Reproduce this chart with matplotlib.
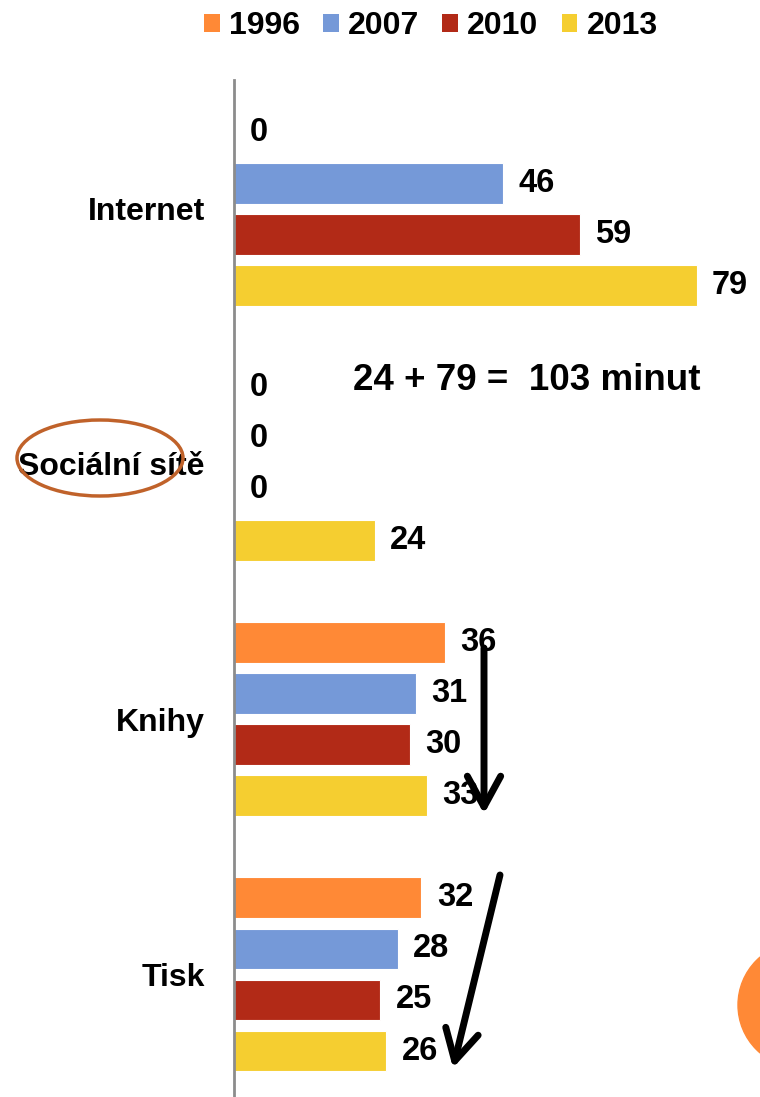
import matplotlib
matplotlib.use("Agg")
import matplotlib.pyplot as plt
from matplotlib.patches import Patch, Ellipse, Circle
import numpy as np

plt.rcParams['font.family'] = ['Liberation Sans', 'DejaVu Sans']

categories = ["Internet", "Sociální sítě", "Knihy", "Tisk"]
years = ["1996", "2007", "2010", "2013"]
colors = ["#FF8936", "#7599D8", "#B22A17", "#F5CE30"]
values = {
    "1996": [0, 0, 36, 32],
    "2007": [46, 0, 31, 28],
    "2010": [59, 0, 30, 25],
    "2013": [79, 24, 33, 26],
}
annotation_text = "24 + 79 =  103 minut"

W, H = 760, 1097
fig = plt.figure(figsize=(W / 100, H / 100), dpi=100)
ax = fig.add_axes([234 / W, 0, 1 - 234 / W, (H - 80) / H])

group_step = 5
for j, y in enumerate(years):
    pos = np.arange(len(categories)) * group_step + j
    vals = values[y]
    ax.barh(pos, vals, height=0.8, color=colors[j], edgecolor="white", linewidth=0.8, label=y)
    for p, v in zip(pos, vals):
        ax.annotate(str(v), (v, p), xytext=(11, 0), textcoords="offset points",
                    ha="left", va="center", fontsize=23.5, fontweight="bold", color="black")

ax.set_xlim(0, 89.8)
ax.set_ylim(18.9, -1.02)
ax.set_yticks(np.arange(len(categories)) * group_step + 1.5)
ax.set_yticklabels(categories, fontsize=23, fontweight="bold")
ax.tick_params(axis="y", length=0, pad=21)
ax.set_xticks([])
for s in ["top", "right", "bottom"]:
    ax.spines[s].set_visible(False)
ax.spines["left"].set_color("#8C8C8C")
ax.spines["left"].set_linewidth(2)

handles = [Patch(facecolor=c, label=y) for c, y in zip(colors, years)]
fig.legend(handles=handles, loc="upper center", bbox_to_anchor=(0.567, 1.016), ncol=4,
           frameon=False, prop={"size": 23, "weight": "bold"}, handlelength=0.5,
           handleheight=0.5, handletextpad=0.28, columnspacing=0.72)

# overlay in pixel coordinates for decorations
ov = fig.add_axes([0, 0, 1, 1], facecolor="none")
ov.set_xlim(0, W)
ov.set_ylim(H, 0)
ov.axis("off")

ov.text(353, 380, annotation_text, ha="left", va="center", fontsize=26.5, fontweight="bold")

ov.add_patch(Ellipse((100, 458), 166, 76, fill=False, edgecolor="#C0622A", linewidth=2.5))
ov.add_patch(Circle((801, 1005), 63, color="#FF8936"))

arrow_kw = dict(arrowstyle="->,head_length=1.1,head_width=0.6", color="black", lw=5,
                shrinkA=0, shrinkB=0, mutation_scale=20)
ov.annotate("", xy=(765, 264), xytext=(408, 102), arrowprops=arrow_kw)
ov.annotate("", xy=(484, 814), xytext=(484, 648), arrowprops=arrow_kw)
ov.annotate("", xy=(453, 1068), xytext=(500, 875), arrowprops=arrow_kw)

fig.savefig("out.png", dpi=100)
